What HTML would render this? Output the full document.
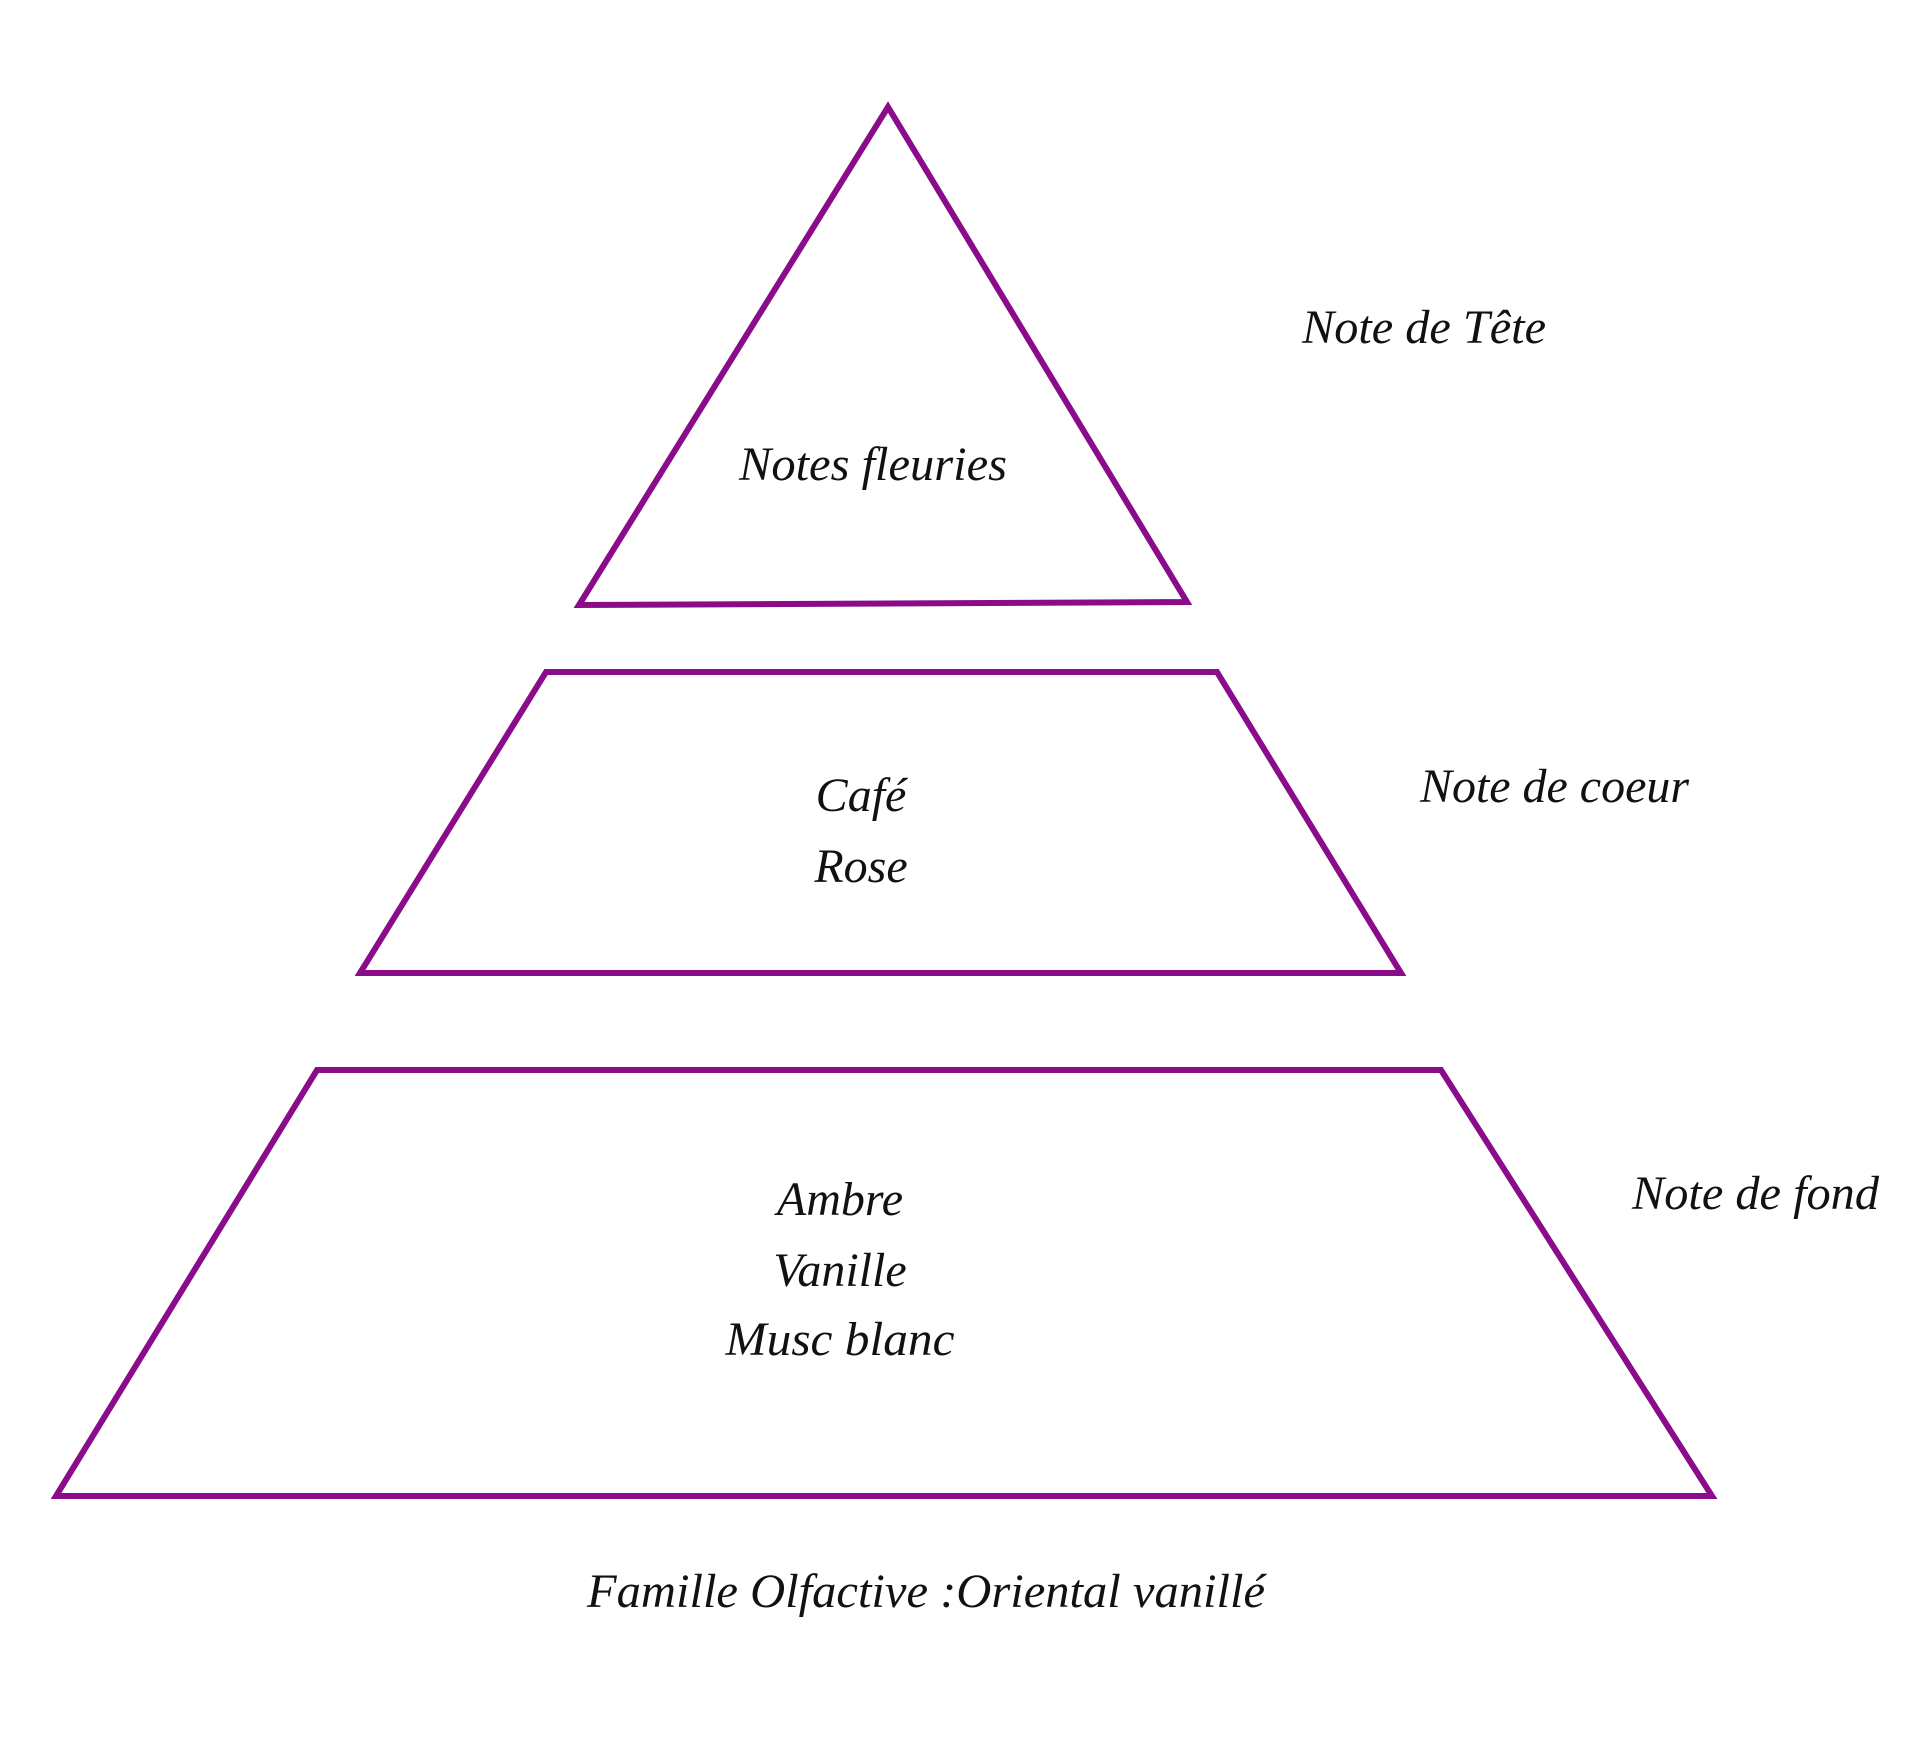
<!DOCTYPE html>
<html><head><meta charset="utf-8"><style>html,body{margin:0;padding:0;background:#fff}svg{display:block}</style></head>
<body>
<svg width="1920" height="1755" viewBox="0 0 1920 1755" xmlns="http://www.w3.org/2000/svg">
<g fill="none" stroke="#8a0c8a" stroke-width="6" stroke-linejoin="miter">
<polygon points="888,107 579,605 1187,602"/>
<polygon points="546,672 1217,672 1401,973 360,973"/>
<polygon points="317,1070 1441,1070 1712,1496 56,1496"/>
</g>
<g font-family="'Liberation Serif', serif" font-style="italic" font-size="48" fill="#111">
<text x="1302" y="343" textLength="244" lengthAdjust="spacingAndGlyphs">Note de Tête</text>
<text x="873" y="480" text-anchor="middle" textLength="268" lengthAdjust="spacingAndGlyphs">Notes fleuries</text>
<text x="861" y="811" text-anchor="middle">Café</text>
<text x="861" y="882" text-anchor="middle">Rose</text>
<text x="1420" y="802" textLength="269" lengthAdjust="spacingAndGlyphs">Note de coeur</text>
<text x="840" y="1215" text-anchor="middle">Ambre</text>
<text x="840" y="1286" text-anchor="middle">Vanille</text>
<text x="840" y="1355" text-anchor="middle" textLength="229" lengthAdjust="spacingAndGlyphs">Musc blanc</text>
<text x="1632" y="1209" textLength="247" lengthAdjust="spacingAndGlyphs">Note de fond</text>
<text x="587" y="1607" textLength="678" lengthAdjust="spacingAndGlyphs">Famille Olfactive :Oriental vanillé</text>
</g>
</svg>
</body></html>
